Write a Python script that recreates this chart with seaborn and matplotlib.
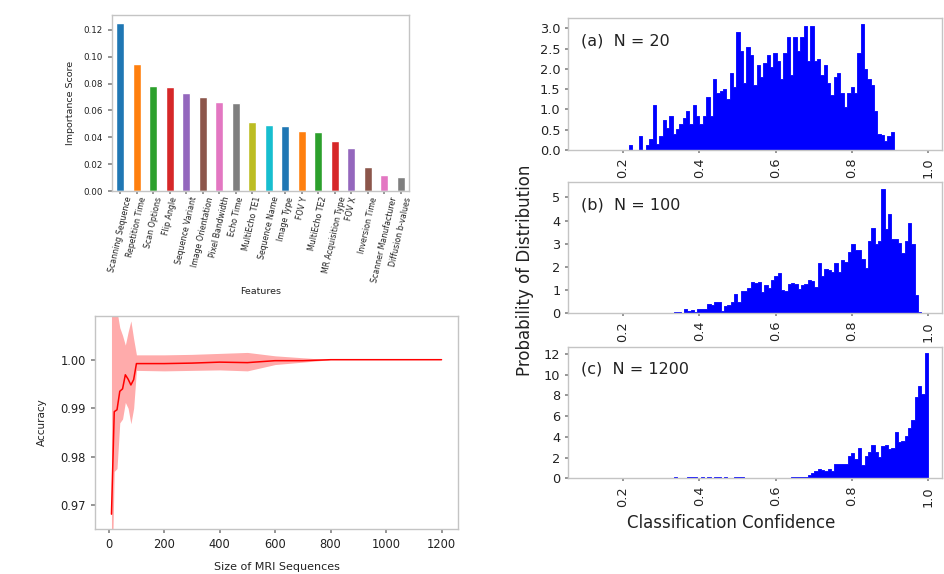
import matplotlib
matplotlib.use("Agg")
import matplotlib.pyplot as plt
import numpy as np
import pandas as pd
import seaborn as sns

# --- feature importance ---
features = ["Scanning Sequence", "Repetition Time", "Scan Options", "Flip Angle",
            "Sequence Variant", "Image Orientation", "Pixel Bandwidth", "Echo Time",
            "MultiEcho TE1", "Sequence Name", "Image Type", "FOV Y", "MultiEcho TE2",
            "MR Acquisition Type", "FOV X", "Inversion Time", "Scanner Manufacturer",
            "Diffusion b-values"]
importance = [0.125, 0.0945, 0.078, 0.0776, 0.0733, 0.070, 0.066, 0.0656, 0.0516,
              0.0489, 0.0486, 0.0449, 0.0436, 0.0369, 0.0317, 0.0182, 0.0117, 0.0107]
bar_palette = ["#1f77b4", "#ff7f0e", "#2ca02c", "#d62728", "#9467bd", "#8c564b",
               "#e377c2", "#7f7f7f", "#bcbd22", "#17becf", "#1f77b4", "#ff7f0e",
               "#2ca02c", "#d62728", "#9467bd", "#8c564b", "#e377c2", "#7f7f7f"]

# --- accuracy vs size ---
sizes = [10, 20, 30, 40, 50, 60, 70, 80, 90, 100, 200, 300, 400, 500, 600, 700,
         800, 900, 1000, 1100, 1200]
acc_mean = [0.9682, 0.9893, 0.9897, 0.9935, 0.9940, 0.9969, 0.9960, 0.9948, 0.9959,
            0.9992, 0.9992, 0.9993, 0.9995, 0.9994, 0.9998, 0.9998, 1.0, 1.0, 1.0, 1.0, 1.0]
acc_low = [0.950, 0.9770, 0.9776, 0.9870, 0.9878, 0.9912, 0.9900, 0.9868, 0.9900,
           0.9978, 0.9977, 0.9978, 0.9979, 0.9977, 0.9990, 0.9995, 1.0, 1.0, 1.0, 1.0, 1.0]
acc_high = [1.020, 1.015, 1.010, 1.0066, 1.0050, 1.0030, 1.0057, 1.0080, 1.0043,
            1.0010, 1.0010, 1.0011, 1.0013, 1.0015, 1.0008, 1.0004, 1.0, 1.0, 1.0, 1.0, 1.0]

# --- confidence histograms (density per bin) ---
hist_a_range = (0.2157, 0.911)
hist_a = [0.13, 0.01, 0.0, 0.35, 0.0, 0.13, 0.27, 1.1, 0.15, 0.35,
          0.75, 0.55, 0.85, 0.4, 0.52, 0.65, 0.8, 0.95, 0.65, 1.1,
          0.85, 0.65, 0.85, 1.3, 0.85, 1.75, 1.4, 1.45, 1.5, 1.25,
          1.9, 1.55, 2.9, 2.45, 1.65, 2.55, 2.35, 1.6, 2.1, 1.8,
          2.15, 2.35, 2.05, 2.4, 2.2, 1.75, 2.4, 2.8, 1.85, 2.8,
          2.45, 2.8, 3.05, 2.2, 3.05, 2.2, 2.25, 1.85, 2.1, 1.65,
          1.35, 1.8, 1.9, 1.4, 1.05, 1.4, 1.55, 1.4, 2.4, 3.1,
          2.0, 1.75, 1.6, 0.95, 0.4, 0.38, 0.22, 0.35, 0.45]
hist_b_range = (0.3333, 0.9825)
hist_b = [0.05, 0.04, 0.0, 0.18, 0.1, 0.15, 0.04, 0.2, 0.18, 0.18,
          0.4, 0.35, 0.5, 0.5, 0.1, 0.3, 0.35, 0.5, 0.85, 0.5,
          0.95, 0.95, 1.1, 1.35, 1.3, 1.35, 0.9, 1.2, 1.1, 1.45,
          1.6, 1.75, 1.0, 0.95, 1.25, 1.3, 1.25, 1.05, 1.2, 1.25,
          1.45, 1.4, 1.15, 2.15, 1.6, 1.9, 1.85, 1.8, 2.15, 1.8,
          2.3, 2.2, 2.65, 3.0, 2.75, 2.75, 2.35, 1.95, 3.1, 3.7,
          3.0, 3.1, 5.35, 3.65, 4.3, 3.2, 3.2, 3.05, 2.6, 3.1,
          3.9, 3.0, 0.8, 0.04]
hist_c_range = (0.333, 1.0)
hist_c = [0.09, 0, 0, 0, 0.1, 0.1, 0.1, 0, 0.09, 0,
          0.1, 0, 0.1, 0.1, 0, 0.08, 0, 0, 0.08, 0.08,
          0.08, 0, 0, 0, 0, 0.07, 0, 0, 0, 0,
          0, 0, 0, 0, 0, 0.1, 0.1, 0.1, 0.1,
          0.15, 0.3, 0.5, 0.7, 0.9, 0.8, 0.7, 0.9, 0.7, 1.4,
          1.4, 1.4, 1.4, 2.2, 2.4, 1.9, 2.9, 1.3, 2.2, 2.5,
          3.2, 2.5, 2.1, 3.1, 3.2, 2.8, 2.9, 4.5, 3.5, 3.6,
          4.1, 4.9, 5.6, 7.8, 8.9, 8.1, 12.1]
hist_labels = ["(a)  N = 20", "(b)  N = 100", "(c)  N = 1200"]

sns.set_theme(style="ticks")
plt.rcParams.update({
    "font.family": ["DejaVu Sans"],
    "axes.edgecolor": "#c4c4c4",
    "axes.linewidth": 1.0,
    "xtick.color": "#888888",
    "ytick.color": "#888888",
    "xtick.labelcolor": "#222222",
    "ytick.labelcolor": "#222222",
    "text.color": "#222222",
    "axes.labelcolor": "#222222",
    "xtick.major.size": 3,
    "ytick.major.size": 3,
})

fig = plt.figure(figsize=(9.44, 5.74), dpi=100)

# feature importance bars
ax1 = fig.add_axes([0.1186, 0.6672, 0.3147, 0.3067])
sns.barplot(x=features, y=importance, hue=features, palette=bar_palette,
            width=0.5, saturation=1, legend=False, ax=ax1)
ax1.set_xlim(-0.5, 17.5)
ax1.set_ylim(0, 0.131)
ax1.set_yticks(np.arange(0, 0.13, 0.02))
ax1.set_yticklabels([f"{v:.2f}" for v in np.arange(0, 0.13, 0.02)], fontsize=6.3)
ax1.set_xticks(range(len(features)))
ax1.set_xticklabels(features, rotation=77, ha="center", fontsize=5.7)
ax1.tick_params(axis="x", length=2, pad=1.5)
ax1.set_xlabel("Features", fontsize=6.8, labelpad=3)
ax1.set_ylabel("Importance Score", fontsize=6.8, labelpad=6)

# accuracy curve
ax2 = fig.add_axes([0.1006, 0.0784, 0.3846, 0.3711])
ax2.fill_between(sizes, acc_low, acc_high, color="red", alpha=0.33, lw=0)
sns.lineplot(x=sizes, y=acc_mean, color="red", lw=1.1, ax=ax2)
ax2.set_xlim(-49.5, 1259.5)
ax2.set_ylim(0.96515, 1.009)
ax2.set_xticks(range(0, 1201, 200))
ax2.set_yticks([0.97, 0.98, 0.99, 1.00])
ax2.set_yticklabels(["0.97", "0.98", "0.99", "1.00"])
ax2.tick_params(labelsize=8.3)
ax2.set_xlabel("Size of MRI Sequences", fontsize=8, labelpad=8)
ax2.set_ylabel("Accuracy", fontsize=7.5, labelpad=10)

# confidence histograms
hist_specs = [
    (hist_a, hist_a_range, [0.7387, 0.2294], np.arange(0, 3.01, 0.5), "{:.1f}", 3.25),
    (hist_b, hist_b_range, [0.4542, 0.2282], np.arange(0, 6, 1), "{:.0f}", 5.65),
    (hist_c, hist_c_range, [0.1667, 0.2293], np.arange(0, 13, 2), "{:.0f}", 12.7),
]
for (heights, rng, (bottom, height), yt, fmt, ytop), label in zip(hist_specs, hist_labels):
    ax = fig.add_axes([0.6017, bottom, 0.396, height])
    n = len(heights)
    width = (rng[1] - rng[0]) / n
    df = pd.DataFrame({"conf": [rng[0] + width * (i + 0.5) for i in range(n)],
                       "density": heights})
    sns.histplot(data=df, x="conf", weights="density", bins=n, binrange=rng,
                 element="step", fill=True, color="blue", alpha=1,
                 linewidth=0.6, edgecolor="blue", ax=ax)
    ax.set_xlim(0.0557, 1.036)
    ax.set_ylim(0, ytop)
    ax.set_yticks(yt)
    ax.set_yticklabels([fmt.format(v) for v in yt])
    ax.set_xticks([0.2, 0.4, 0.6, 0.8, 1.0])
    ax.set_xticklabels(["0.2", "0.4", "0.6", "0.8", "1.0"], rotation=90)
    ax.tick_params(labelsize=9.3, length=2)
    ax.set_xlabel("")
    ax.set_ylabel("")
    ax.text(0.036, 0.83, label, transform=ax.transAxes, fontsize=11.5,
            va="center", ha="left")

fig.text(0.556, 0.5296, "Probability of Distribution", rotation=90,
         ha="center", va="center", fontsize=12)
fig.text(0.775, 0.088, "Classification Confidence", ha="center", va="center",
         fontsize=12)

fig.savefig("out.png", dpi=100, facecolor="white")
